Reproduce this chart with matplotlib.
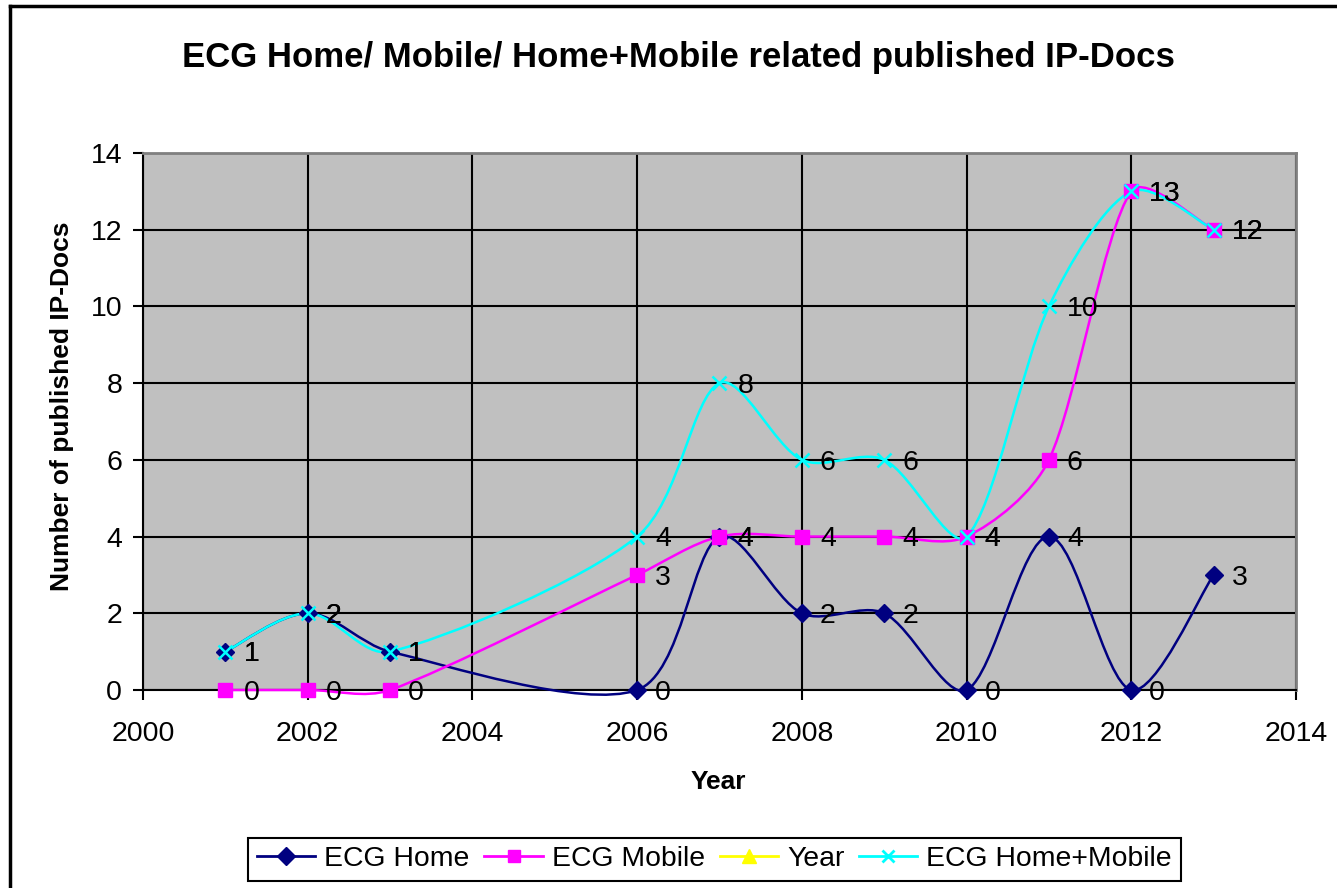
import numpy as np
import matplotlib
matplotlib.use("Agg")
import matplotlib.pyplot as plt
from matplotlib.path import Path
from matplotlib.patches import PathPatch
from matplotlib.lines import Line2D

plt.rcParams["font.family"] = ["Liberation Sans", "DejaVu Sans"]

years = [2001, 2002, 2003, 2006, 2007, 2008, 2009, 2010, 2011, 2012, 2013]
ecg_home = [1, 2, 1, 0, 4, 2, 2, 0, 4, 0, 3]
ecg_mobile = [0, 0, 0, 3, 4, 4, 4, 4, 6, 13, 12]
ecg_home_mobile = [1, 2, 1, 4, 8, 6, 6, 4, 10, 13, 12]

series = [
    ("ECG Home", ecg_home, "#000080", "D"),
    ("ECG Mobile", ecg_mobile, "#FF00FF", "s"),
    ("ECG Home+Mobile", ecg_home_mobile, "#00FFFF", "x"),
]

W, H = 1337, 888
X0, X1, Y0, Y1 = 143, 1296, 153, 690   # plot area in pixels
PX_X = (X1 - X0) / 14.0                 # pixels per year
PX_Y = (Y1 - Y0) / 14.0                 # pixels per doc


def smooth_path(xs, ys):
    # Excel-like smoothed line: Bezier segments, Catmull-Rom tangents
    # shortened next to short segments (measured on screen)
    pts = np.column_stack([xs, ys]).astype(float)
    n = len(pts)

    def seg(a, b):
        d = (pts[b] - pts[a]) * [PX_X, PX_Y]
        return np.hypot(*d)

    def ctrl(i):
        p0 = pts[max(i - 1, 0)]
        p2 = pts[min(i + 1, n - 1)]
        tan = (p2 - p0) / 6.0
        dp = seg(i - 1, i) if i > 0 else 0.0
        dn = seg(i, i + 1) if i < n - 1 else 0.0
        tot = dp + dn
        fb = min(1.0, 2 * dp / tot) if tot else 0
        fa = min(1.0, 2 * dn / tot) if tot else 0
        return pts[i] - tan * fb, pts[i] + tan * fa

    verts = [pts[0]]
    codes = [Path.MOVETO]
    for i in range(n - 1):
        c1 = ctrl(i)[1]
        c2 = ctrl(i + 1)[0]
        verts += [c1, c2, pts[i + 1]]
        codes += [Path.CURVE4] * 3
    return Path(verts, codes)


fig = plt.figure(figsize=(W / 100, H / 100), dpi=100)
ax = fig.add_axes([X0 / W, 1 - Y1 / H, (X1 - X0) / W, (Y1 - Y0) / H])
ax.set_facecolor("#C0C0C0")

for name, vals, color, mk in series:
    ax.add_patch(PathPatch(smooth_path(years, vals), facecolor="none",
                           edgecolor=color, lw=1.8, zorder=3, clip_on=False))
    if mk == "x":
        ax.plot(years, vals, ls="none", marker=mk, ms=10, mew=1.8,
                color=color, zorder=4, clip_on=False)
    else:
        ax.plot(years, vals, ls="none", marker=mk, ms=10 if mk == "s" else 9.5,
                color=color, zorder=4, clip_on=False)
    for x, y in zip(years, vals):
        ax.annotate(str(y), (x, y), xytext=(13, -2), textcoords="offset points",
                    fontsize=20.5, va="center", ha="left", zorder=5)

ax.set_xlim(2000, 2014)
ax.set_ylim(0, 14)
ax.set_xticks(range(2000, 2015, 2))
ax.set_yticks(range(0, 15, 2))
ax.grid(True, color="black", lw=1.5, zorder=1)
ax.set_axisbelow(True)
ax.tick_params(direction="out", length=7, width=1.5, labelsize=20.5)
ax.tick_params(axis="x", pad=15)
ax.tick_params(axis="y", pad=8)
for s in ["left", "bottom"]:
    ax.spines[s].set_color("black")
    ax.spines[s].set_linewidth(1.5)
for s in ["top", "right"]:
    ax.spines[s].set_color("#808080")
    ax.spines[s].set_linewidth(2)

ax.set_xlabel("Year", fontsize=19, fontweight="bold")
ax.set_ylabel("Number of published IP-Docs", fontsize=19, fontweight="bold")
ax.xaxis.set_label_coords((718 - X0) / (X1 - X0), -(770 - Y1) / (Y1 - Y0))
ax.yaxis.set_label_coords(-(X0 - 74) / (X1 - X0), (Y1 - 406) / (Y1 - Y0))

fig.text(678 / W, 1 - 58 / H, "ECG Home/ Mobile/ Home+Mobile related published IP-Docs",
         fontsize=25, fontweight="bold", ha="center", va="center")

handles = [
    Line2D([], [], color="#000080", lw=2, marker="D", ms=9),
    Line2D([], [], color="#FF00FF", lw=2, marker="s", ms=9),
    Line2D([], [], color="#FFFF00", lw=2, marker="^", ms=10),
    Line2D([], [], color="#00FFFF", lw=2, marker="x", ms=8, mew=2),
]
leg = fig.legend(handles, ["ECG Home", "ECG Mobile", "Year", "ECG Home+Mobile"],
                 loc="center", bbox_to_anchor=(714.5 / W, 1 - 859 / H), ncol=4,
                 fontsize=20.4, frameon=True, fancybox=False, edgecolor="black",
                 framealpha=1, handlelength=2.05, handletextpad=0.32,
                 columnspacing=0.53, borderpad=0.3)
leg.get_frame().set_linewidth(1.5)

fig.add_artist(Line2D([10 / W, 10 / W], [0, 1 - 6 / H], color="black", lw=2.5))
fig.add_artist(Line2D([10 / W, 1], [1 - 6 / H, 1 - 6 / H], color="black", lw=2.5))

fig.savefig("out.png", dpi=100)
